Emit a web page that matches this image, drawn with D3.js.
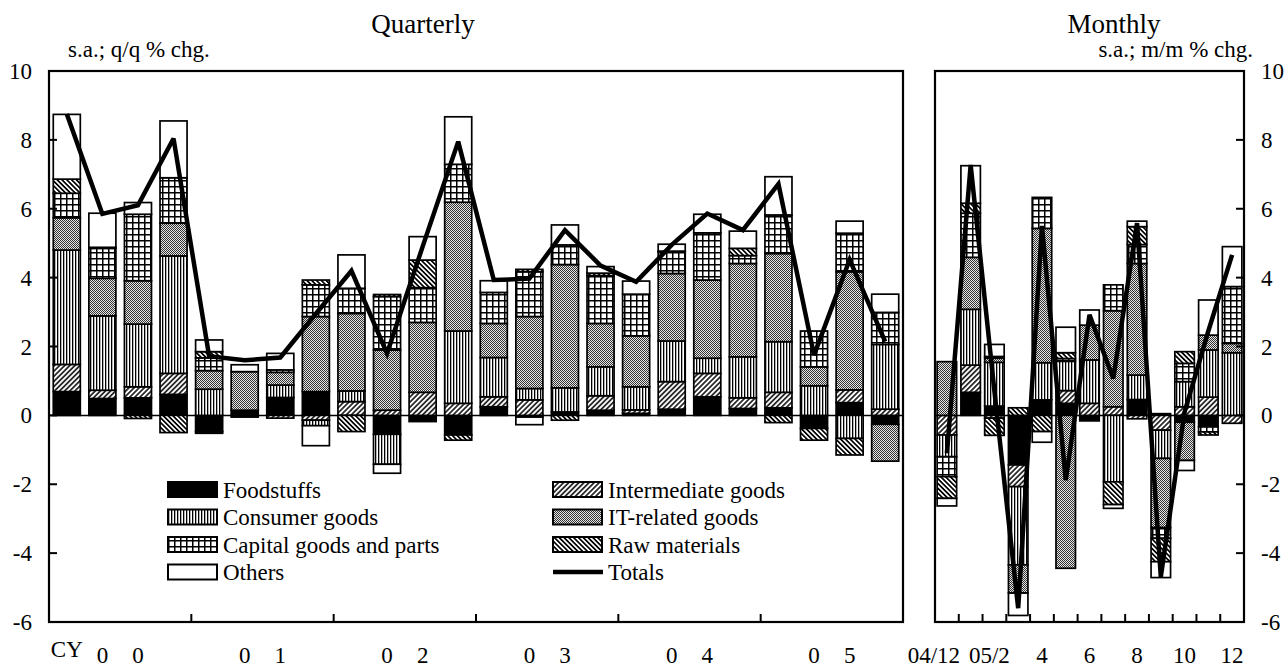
<!DOCTYPE html>
<html>
<head>
<meta charset="utf-8">
<script src="https://cdn.jsdelivr.net/npm/d3@7"></script>
<style>
  body { margin: 0; background: #fff; }
  svg { display: block; font-family: "Liberation Serif", "Times New Roman", serif; }
</style>
</head>
<body>
<div class="chart"></div>
<script>
// ---- data ----
const quarters = ["2000Q1","2000Q2","2000Q3","2000Q4","2001Q1","2001Q2","2001Q3","2001Q4",
  "2002Q1","2002Q2","2002Q3","2002Q4","2003Q1","2003Q2","2003Q3","2003Q4",
  "2004Q1","2004Q2","2004Q3","2004Q4","2005Q1","2005Q2","2005Q3","2005Q4"];
const quarterLabels = ["CY","0","0","","","0","1","","","0","2","","","0","3","","","0","4","","","0","5",""];

const foodQ  = [0.69,0.49,0.51,0.61,-0.47,0.15,0.52,0.69,0,-0.55,-0.18,-0.57,0.25,-0.05,0.10,0.15,0.06,0.18,0.54,0.20,0.22,-0.38,0.37,-0.26];
const interQ = [0.79,0.24,0.32,0.61,-0.05,0,-0.08,-0.14,0.40,0.15,0.67,0.35,0.29,0.45,0,0.42,0.10,0.80,0.68,0.31,0.45,0,0.37,0.18];
const consQ  = [3.32,2.16,1.82,3.41,0.76,0,0.36,-0.16,0.31,-0.87,0,2.10,1.14,0.33,0.70,0.84,0.67,1.18,0.44,1.19,1.47,0.86,-0.67,1.88];
const itQ    = [0.94,1.09,1.26,0.95,0.54,1.12,0.37,2.18,2.25,1.75,2.03,3.74,0.99,2.09,3.58,1.26,1.48,1.96,2.27,2.71,2.56,0.55,3.43,-1.07];
const capQ   = [0.71,0.87,1.93,1.32,0.37,0,0.07,0.92,0.73,1.55,1.01,1.10,0.90,1.30,0.57,1.39,1.21,0.63,1.37,0.23,1.12,1.04,1.12,0.93];
const rawQ   = [0.41,0.03,-0.09,-0.50,0.18,-0.05,0,0.14,-0.47,0.06,0.80,-0.15,0,0.07,-0.14,0.07,0,0.02,0,0.21,-0.21,-0.34,-0.48,0];
const othQ   = [1.88,0.99,0.34,1.65,0.34,0.20,0.48,-0.58,0.97,-0.26,0.68,1.38,0.34,-0.22,0.58,0.19,0.38,0.20,0.54,0.50,1.11,0,0.35,0.53];
const totalQ = [8.75,5.85,6.10,8.04,1.72,1.60,1.68,2.95,4.20,1.80,4.90,7.95,3.93,3.97,5.38,4.35,3.88,4.95,5.86,5.38,6.72,1.75,4.52,2.14];

const months = ["04/12","05/1","05/2","05/3","05/4","05/5","05/6","05/7","05/8","05/9","05/10","05/11","05/12"];
const monthLabels = ["04/12","","05/2","","4","","6","","8","","10","","12"];

const foodM  = [0,0.67,0.27,-1.44,0.45,0.35,-0.16,0,0.46,0.05,-0.20,-0.33,0];
const interM = [-0.57,0.79,-0.08,-0.63,0,0.37,0.35,0.25,-0.10,-0.43,0.25,0.53,-0.23];
const consM  = [-0.63,1.62,1.27,-2.27,1.08,0.85,1.26,-1.93,0.71,-0.82,0.73,1.37,1.82];
const itM    = [1.56,1.51,0.12,-0.82,3.90,-4.44,1.01,2.79,3.24,-2.01,-1.11,0.43,0.27];
const capM   = [-0.58,1.28,0.05,0,0.90,0.08,0,0.75,0.55,-0.31,0.53,-0.15,1.65];
const rawM   = [-0.63,0.29,-0.50,0.22,-0.47,0.17,0,-0.66,0.52,-0.68,0.34,-0.09,0];
const othM   = [-0.22,1.09,0.35,-0.65,-0.31,0.74,0.44,-0.11,0.16,-0.46,-0.29,1.02,1.16];
const totalM = [-1.10,7.27,0.70,-5.60,5.50,-1.88,2.92,1.07,5.58,-4.69,0.10,2.45,4.66];

const yTicks = [-6,-4,-2,0,2,4,6,8,10];

const keys = ["food","inter","cons","it","cap","raw","oth"];
const names = {food:"Foodstuffs", inter:"Intermediate goods", cons:"Consumer goods",
  it:"IT-related goods", cap:"Capital goods and parts", raw:"Raw materials", oth:"Others"};

const buildRows = (cats, f, i, c, t, k, r, o, tot) => cats.map((cat, n) => ({
  cat: cat, food: f[n], inter: i[n], cons: c[n], it: t[n], cap: k[n], raw: r[n], oth: o[n], total: tot[n]
}));
const rowsQ = buildRows(quarters, foodQ, interQ, consQ, itQ, capQ, rawQ, othQ, totalQ);
const rowsM = buildRows(months, foodM, interM, consM, itM, capM, rawM, othM, totalM);

// ---- layout ----
const width = 1285, height = 667;
const plotTop = 71, plotBottom = 622;
const qLeft = 49, qRight = 903, mLeft = 935, mRight = 1244;

const svg = d3.select(".chart").append("svg")
  .attr("width", width).attr("height", height);

// patterns
const defs = svg.append("defs");
const hatch = (id, angle, size, sw) => {
  const p = defs.append("pattern").attr("id", id).attr("patternUnits", "userSpaceOnUse")
    .attr("width", size).attr("height", size).attr("patternTransform", `rotate(${angle})`);
  p.append("rect").attr("width", size).attr("height", size).attr("fill", "#fff");
  p.append("line").attr("x1", size / 2).attr("x2", size / 2).attr("y1", 0).attr("y2", size)
    .attr("stroke", "#000").attr("stroke-width", sw);
};
hatch("p-inter", 45, 3.6, 1.5);
hatch("p-raw", -45, 3.4, 1.7);

const pc = defs.append("pattern").attr("id", "p-cons").attr("patternUnits", "userSpaceOnUse")
  .attr("width", 3).attr("height", 3);
pc.append("rect").attr("width", 3).attr("height", 3).attr("fill", "#fff");
pc.append("rect").attr("x", 0).attr("width", 1.3).attr("height", 3).attr("fill", "#000");

const pi = defs.append("pattern").attr("id", "p-it").attr("patternUnits", "userSpaceOnUse")
  .attr("width", 2).attr("height", 2);
pi.append("rect").attr("width", 2).attr("height", 2).attr("fill", "#e6e6e6");
pi.append("rect").attr("x", 0).attr("y", 0).attr("width", 1).attr("height", 1).attr("fill", "#333");
pi.append("rect").attr("x", 1).attr("y", 1).attr("width", 1).attr("height", 1).attr("fill", "#333");

const pg = defs.append("pattern").attr("id", "p-cap").attr("patternUnits", "userSpaceOnUse")
  .attr("width", 6).attr("height", 6);
pg.append("rect").attr("width", 6).attr("height", 6).attr("fill", "#fff");
pg.append("rect").attr("x", 0).attr("y", 0).attr("width", 6).attr("height", 1.5).attr("fill", "#000");
pg.append("rect").attr("x", 0).attr("y", 0).attr("width", 1.5).attr("height", 6).attr("fill", "#000");

const fills = {food: "#000", inter: "url(#p-inter)", cons: "url(#p-cons)", it: "url(#p-it)",
  cap: "url(#p-cap)", raw: "url(#p-raw)", oth: "#fff"};

const y = d3.scaleLinear().domain([-6, 10]).range([plotBottom, plotTop]);

const xq = d3.scaleBand().domain(quarters).range([qLeft, qRight]).paddingInner(0.24).paddingOuter(0.12);
const xm = d3.scaleBand().domain(months).range([mLeft, mRight]).paddingInner(0.18).paddingOuter(0.09);

const stack = d3.stack().keys(keys).offset(d3.stackOffsetDiverging);

function drawPanel(rows, x, left, right) {
  const g = svg.append("g");

  // zero line
  g.append("line").attr("x1", left).attr("x2", right).attr("y1", y(0)).attr("y2", y(0))
    .attr("stroke", "#000").attr("stroke-width", 1.5);

  g.selectAll(".series")
    .data(stack(rows))
    .join("g")
    .attr("class", "series")
    .attr("fill", s => fills[s.key])
    .selectAll("rect")
    .data(s => s.filter(d => d[1] !== d[0]))
    .join("rect")
    .attr("x", d => x(d.data.cat))
    .attr("width", x.bandwidth())
    .attr("y", d => y(Math.max(d[0], d[1])))
    .attr("height", d => Math.abs(y(d[0]) - y(d[1])))
    .attr("stroke", "#000")
    .attr("stroke-width", 1.7);

  const line = d3.line()
    .x(d => x(d.cat) + x.bandwidth() / 2)
    .y(d => y(d.total));
  g.append("path").datum(rows)
    .attr("d", line)
    .attr("fill", "none")
    .attr("stroke", "#000")
    .attr("stroke-width", 4.5)
    .attr("stroke-linejoin", "miter")
    .attr("stroke-miterlimit", 3);

  // frame
  g.append("rect").attr("x", left).attr("y", plotTop)
    .attr("width", right - left).attr("height", plotBottom - plotTop)
    .attr("fill", "none").attr("stroke", "#000").attr("stroke-width", 2.2);
  return g;
}

const gq = drawPanel(rowsQ, xq, qLeft, qRight);
const gm = drawPanel(rowsM, xm, mLeft, mRight);

// y ticks and labels
yTicks.forEach(t => {
  svg.append("line").attr("x1", qLeft).attr("x2", qLeft + 8).attr("y1", y(t)).attr("y2", y(t))
    .attr("stroke", "#000").attr("stroke-width", 2);
  svg.append("line").attr("x1", mRight - 8).attr("x2", mRight).attr("y1", y(t)).attr("y2", y(t))
    .attr("stroke", "#000").attr("stroke-width", 2);
  svg.append("text").attr("x", 32).attr("y", y(t)).attr("dy", "0.35em")
    .attr("text-anchor", "end").attr("font-size", "23px").text(t);
  svg.append("text").attr("x", 1261).attr("y", y(t)).attr("dy", "0.35em")
    .attr("text-anchor", "start").attr("font-size", "23px").text(t);
});

// x ticks: year boundaries (quarterly), month boundaries (monthly)
quarters.forEach((q, i) => {
  if (i > 0 && i % 4 === 0) {
    const xx = xq(q) - xq.step() * xq.paddingInner() / 2;
    svg.append("line").attr("x1", xx).attr("x2", xx).attr("y1", plotBottom).attr("y2", plotBottom - 8)
      .attr("stroke", "#000").attr("stroke-width", 2);
  }
});
months.forEach((m, i) => {
  if (i > 0) {
    const xx = xm(m) - xm.step() * xm.paddingInner() / 2;
    svg.append("line").attr("x1", xx).attr("x2", xx).attr("y1", plotBottom).attr("y2", plotBottom - 8)
      .attr("stroke", "#000").attr("stroke-width", 2);
  }
});

// x labels
svg.selectAll(".qlab").data(quarters).join("text")
  .attr("class", "qlab")
  .attr("x", d => xq(d) + xq.bandwidth() / 2)
  .attr("y", (d, i) => quarterLabels[i] === "CY" ? 657 : 663)
  .attr("text-anchor", "middle").attr("font-size", "23px")
  .text((d, i) => quarterLabels[i]);

const monthShift = {"04/12": -13, "05/2": -5};
svg.selectAll(".mlab").data(months).join("text")
  .attr("class", "mlab")
  .attr("x", (d, i) => xm(d) + xm.bandwidth() / 2 + (monthShift[monthLabels[i]] || 0))
  .attr("y", 663)
  .attr("text-anchor", "middle").attr("font-size", "23px")
  .text((d, i) => monthLabels[i]);

// titles
svg.append("text").attr("x", 423).attr("y", 33).attr("text-anchor", "middle")
  .attr("font-size", "27px").text("Quarterly");
svg.append("text").attr("x", 1114).attr("y", 33).attr("text-anchor", "middle")
  .attr("font-size", "27px").text("Monthly");
svg.append("text").attr("x", 68).attr("y", 57).attr("text-anchor", "start")
  .attr("font-size", "23px").text("s.a.; q/q % chg.");
svg.append("text").attr("x", 1253).attr("y", 57).attr("text-anchor", "end")
  .attr("font-size", "23px").text("s.a.; m/m % chg.");

// legend
const legendLeft = ["food", "cons", "cap", "oth"];
const legendRight = ["inter", "it", "raw", "total"];
const legY0 = 482, legStep = 27.5;
const drawLegend = (items, bx) => {
  items.forEach((k, i) => {
    const yy = legY0 + i * legStep;
    if (k === "total") {
      svg.append("line").attr("x1", bx).attr("x2", bx + 50).attr("y1", yy + 7.5).attr("y2", yy + 7.5)
        .attr("stroke", "#000").attr("stroke-width", 4.5);
    } else {
      svg.append("rect").attr("x", bx).attr("y", yy).attr("width", 49).attr("height", 15)
        .attr("fill", fills[k]).attr("stroke", "#000").attr("stroke-width", 2);
    }
    svg.append("text").attr("x", bx + 55).attr("y", yy + 15.5)
      .attr("font-size", "23px").text(k === "total" ? "Totals" : names[k]);
  });
};
drawLegend(legendLeft, 168);
drawLegend(legendRight, 553);
</script>
</body>
</html>
